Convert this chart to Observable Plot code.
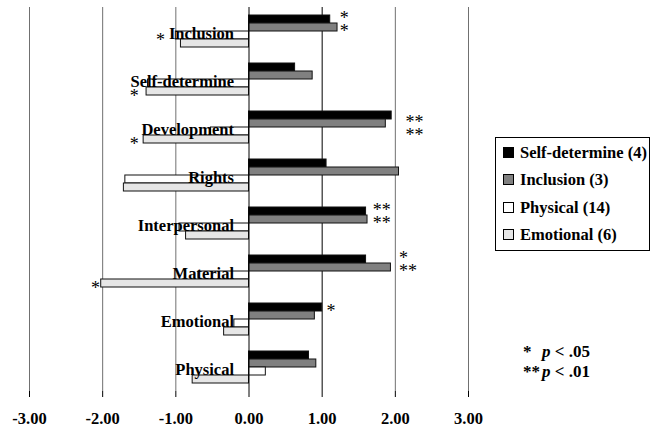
<!DOCTYPE html>
<html><head><meta charset="utf-8">
<script src="https://cdn.jsdelivr.net/npm/d3@7"></script>
<script src="https://cdn.jsdelivr.net/npm/@observablehq/plot@0.6"></script>
<style>
body{margin:0;background:#fff;}
#wrap{position:relative;width:653px;height:429px;font-family:"Liberation Serif","Times New Roman",serif;background:#fff;}
#legend{position:absolute;left:495px;top:137px;width:153px;border:1px solid #000;padding:1px 0 2px 0;}
.row{height:27.3px;line-height:27.3px;font-size:16.5px;font-weight:bold;white-space:nowrap;padding-left:7px;}
.sw{display:inline-block;width:9px;height:9px;border:1px solid #000;margin-right:6px;}
#plegend{position:absolute;left:523px;top:342px;font-size:17px;font-weight:bold;line-height:20px;}
#plegend .st{display:inline-block;width:19px;}
</style></head>
<body>
<div id="wrap"><div id="chart"></div><div id="legend"></div><div id="plegend"></div></div>
<script>
const categories = ["Inclusion","Self-determine","Development","Rights","Interpersonal","Material","Emotional","Physical"];
const series = ["Self-determine (4)","Inclusion (3)","Physical (14)","Emotional (6)"];
const selfDetermine = [1.11, 0.63, 1.95, 1.06, 1.60, 1.60, 1.00, 0.82];
const inclusion     = [1.21, 0.87, 1.87, 2.05, 1.62, 1.94, 0.90, 0.92];
const physical      = [-1.00, -1.38, -0.52, -1.69, -0.95, -0.69, -0.20, 0.23];
const emotional     = [-0.93, -1.40, -1.44, -1.71, -0.86, -2.02, -0.34, -0.77];
const seriesColors = ["#000000","#808080","#ffffff","#e6e6e6"];
const tickLabels = ["-3.00","-2.00","-1.00","0.00","1.00","2.00","3.00"];
// significance markers: category, bar row they sit by, marker text, line of the note, x where the note starts
const stars = [
  {category:"Inclusion", series:"Self-determine (4)", text:"*", line:1, x:1.24},
  {category:"Inclusion", series:"Inclusion (3)", text:"*", line:2, x:1.24},
  {category:"Development", series:"Inclusion (3)", text:"**", line:1, x:2.14},
  {category:"Development", series:"Physical (14)", text:"**", line:2, x:2.14},
  {category:"Interpersonal", series:"Self-determine (4)", text:"**", line:1, x:1.69},
  {category:"Interpersonal", series:"Inclusion (3)", text:"**", line:2, x:1.69},
  {category:"Material", series:"Self-determine (4)", text:"*", line:1, x:2.05},
  {category:"Material", series:"Inclusion (3)", text:"**", line:2, x:2.05},
  {category:"Emotional", series:"Self-determine (4)", text:"*", line:2, x:1.06},
  {category:"Inclusion", series:"Physical (14)", text:"*", line:3, x:-1.27},
  {category:"Self-determine", series:"Emotional (6)", text:"*", line:3, x:-1.63},
  {category:"Development", series:"Emotional (6)", text:"*", line:3, x:-1.63},
  {category:"Material", series:"Emotional (6)", text:"*", line:3, x:-2.16}
];
const pNotes = [["*", ".05"], ["**", ".01"]];

const seriesValues = [selfDetermine, inclusion, physical, emotional];
const data = categories.flatMap((c, i) => series.map((s, j) => ({category: c, series: s, value: seriesValues[j][i]})));
const xTicks = tickLabels.map(Number);
const gridValues = xTicks.filter(v => v !== 0);
const bandH = 48;
const tickLen = 0.082;
const lineShift = {1: -1, 2: 4, 3: 5};
const starFont = {fontFamily: '"Liberation Serif",serif', fontWeight: "normal", fontSize: 18, fill: "#000", textAnchor: "start"};

const plot = Plot.plot({
  width: 653,
  height: 429,
  marginTop: 7,
  marginBottom: 38,
  marginLeft: 29,
  marginRight: 185,
  x: {domain: [-3, 3], label: null},
  fy: {domain: categories, padding: 0, axis: null},
  y: {domain: series, paddingInner: 0, paddingOuter: 0.75, axis: null},
  color: {domain: series, range: seriesColors},
  style: {fontFamily: '"Liberation Serif","Times New Roman",serif', fontSize: "16.5px", fontWeight: "bold", background: "white", color: "black"},
  marks: [
    Plot.ruleX(gridValues.filter(v => v !== 1), {stroke: "#707070"}),
    Plot.ruleX(gridValues.filter(v => v === 1), {stroke: "#000"}),
    Plot.barX(data, {fy: "category", y: "series", x: "value", fill: "series", stroke: "#111", strokeWidth: 1}),
    Plot.ruleX([0], {stroke: "#000"}),
    Plot.ruleY(categories, {fy: d => d, x1: -tickLen, x2: 0, dy: -bandH / 2, stroke: "#000"}),
    Plot.ruleY(categories.slice(-1), {fy: d => d, x1: -tickLen, x2: 0, dy: bandH / 2, stroke: "#000"}),
    Plot.text(categories, {fy: d => d, x: 0, text: d => d, textAnchor: "end", dx: -15, dy: 2, fontWeight: "bold", fontSize: 16.5, fill: "#000"}),
    ...[1, 2, 3].map(l => Plot.text(stars.filter(d => d.line === l), {fy: "category", y: "series", x: "x", text: "text", dy: lineShift[l], ...starFont})),
    Plot.axisX({ticks: xTicks, tickFormat: d => tickLabels[xTicks.indexOf(d)], tickSize: 6, tickPadding: 15, line: true, fontSize: 16.5, fontWeight: "bold", label: null, stroke: "#000", fill: "#000"})
  ]
});
document.getElementById("chart").appendChild(plot);

const legend = document.getElementById("legend");
series.forEach((s, j) => {
  const row = document.createElement("div");
  row.className = "row";
  const sw = document.createElement("span");
  sw.className = "sw";
  sw.style.background = seriesColors[j];
  row.appendChild(sw);
  row.appendChild(document.createTextNode(s));
  legend.appendChild(row);
});
const pl = document.getElementById("plegend");
pNotes.forEach(([st, v]) => {
  const row = document.createElement("div");
  row.innerHTML = `<span class="st">${st}</span><i>p</i> &lt; ${v}`;
  pl.appendChild(row);
});
</script>
</body></html>
